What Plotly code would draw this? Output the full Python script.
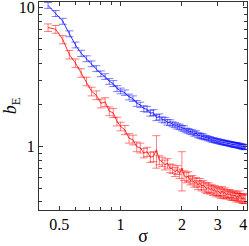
import plotly.graph_objects as go

sigma = [0.44, 0.48, 0.52, 0.56, 0.60, 0.64, 0.68, 0.72, 0.76, 0.80, 0.84, 0.88, 0.92, 0.96, 1.00,
         1.05, 1.10, 1.15, 1.20, 1.25, 1.30, 1.35, 1.40, 1.45, 1.50, 1.55, 1.60, 1.65, 1.70, 1.75,
         1.80, 1.85, 1.90, 1.95, 2.00, 2.05, 2.10, 2.15, 2.20, 2.25, 2.30, 2.35, 2.40, 2.45, 2.50,
         2.55, 2.60, 2.65, 2.70, 2.75, 2.80, 2.85, 2.90, 2.95, 3.00, 3.05, 3.10, 3.15, 3.20, 3.25,
         3.30, 3.35, 3.40, 3.45, 3.50, 3.55, 3.60, 3.65, 3.70, 3.75, 3.80, 3.85, 3.90, 3.95, 4.00,
         4.05, 4.10]

blue_vals = [10.4, 9.1, 8.0, 6.5, 5.4, 4.7, 4.3, 3.95, 3.65, 3.35, 3.2, 2.95, 2.85, 2.62, 2.52,
             2.45, 2.28, 2.22, 2.05, 2.00, 1.88, 1.86, 1.74, 1.76, 1.62, 1.64, 1.57, 1.55, 1.50, 1.49,
             1.45, 1.43, 1.40, 1.39, 1.36, 1.35, 1.31, 1.30, 1.28, 1.27, 1.24, 1.25, 1.21, 1.20, 1.19,
             1.18, 1.16, 1.16, 1.14, 1.14, 1.12, 1.12, 1.11, 1.10, 1.10, 1.09, 1.08, 1.08, 1.07, 1.07,
             1.06, 1.06, 1.05, 1.05, 1.04, 1.04, 1.03, 1.03, 1.03, 1.02, 1.02, 1.01, 1.01, 1.00, 1.00,
             0.995, 0.99]

blue_err = [0.50, 0.45, 0.40, 0.32, 0.26, 0.24, 0.21, 0.19, 0.18, 0.16, 0.15, 0.14, 0.14, 0.13, 0.12,
            0.11, 0.11, 0.10, 0.10, 0.09, 0.09, 0.09, 0.08, 0.09, 0.08, 0.08, 0.07, 0.07, 0.07, 0.07,
            0.06, 0.06, 0.06, 0.06, 0.06, 0.06, 0.05, 0.05, 0.05, 0.05, 0.05, 0.05, 0.05, 0.05, 0.05,
            0.05, 0.04, 0.04, 0.04, 0.04, 0.04, 0.04, 0.04, 0.04, 0.04, 0.04, 0.04, 0.04, 0.04, 0.04,
            0.04, 0.04, 0.04, 0.04, 0.04, 0.04, 0.04, 0.04, 0.04, 0.04, 0.04, 0.04, 0.04, 0.04, 0.04,
            0.04, 0.04]

red_vals = [7.2, 7.0, 5.9, 4.6, 4.0, 3.4, 2.95, 2.5, 2.35, 2.05, 2.1, 1.8, 1.75, 1.52, 1.40,
            1.32, 1.15, 1.12, 1.00, 0.98, 0.90, 0.92, 0.84, 0.85, 0.95, 0.80, 0.78, 0.74, 0.76, 0.70,
            0.69, 0.66, 0.68, 0.64, 0.70, 0.62, 0.60, 0.61, 0.57, 0.58, 0.55, 0.56, 0.53, 0.55, 0.52,
            0.53, 0.51, 0.50, 0.51, 0.49, 0.50, 0.48, 0.49, 0.47, 0.48, 0.47, 0.46, 0.48, 0.46, 0.47,
            0.45, 0.46, 0.45, 0.46, 0.44, 0.45, 0.44, 0.45, 0.43, 0.44, 0.43, 0.45, 0.43, 0.42, 0.43,
            0.42, 0.42]

red_err = [0.45, 0.45, 0.40, 0.32, 0.28, 0.24, 0.21, 0.18, 0.17, 0.15, 0.15, 0.13, 0.13, 0.11, 0.10,
           0.10, 0.09, 0.09, 0.08, 0.08, 0.07, 0.07, 0.07, 0.07, 0.25, 0.06, 0.06, 0.06, 0.06, 0.05,
           0.05, 0.05, 0.05, 0.05, 0.22, 0.05, 0.05, 0.05, 0.04, 0.04, 0.04, 0.04, 0.04, 0.04, 0.04,
           0.04, 0.04, 0.04, 0.04, 0.035, 0.035, 0.035, 0.035, 0.035, 0.035, 0.035, 0.035, 0.035, 0.035, 0.035,
           0.03, 0.03, 0.03, 0.03, 0.03, 0.03, 0.03, 0.03, 0.03, 0.03, 0.03, 0.03, 0.03, 0.03, 0.03,
           0.03, 0.03]

x_major = [0.5, 1, 2, 3, 4]
x_labels = ["0.5", "1", "2", "3", "4"]
x_minor = [0.6, 0.7, 0.8, 0.9]
y_major = [1, 10]
y_labels = ["1", "10"]
y_minor = [0.4, 0.5, 0.6, 0.7, 0.8, 0.9, 2, 3, 4, 5, 6, 7, 8, 9]

SERIF = "Liberation Serif, Times New Roman, Times, serif"

fig = go.Figure()
fig.add_trace(go.Scatter(
    x=sigma, y=red_vals, mode="lines",
    line=dict(color="rgb(255,0,0)", width=0.8),
    error_y=dict(type="data", array=red_err, visible=True,
                 color="rgba(255,0,0,0.5)", thickness=1, width=4),
    showlegend=False))
fig.add_trace(go.Scatter(
    x=sigma, y=blue_vals, mode="lines",
    line=dict(color="rgb(0,0,255)", width=0.8),
    error_y=dict(type="data", array=blue_err, visible=True,
                 color="rgba(0,0,255,0.5)", thickness=1, width=4),
    showlegend=False))

axis_common = dict(showline=True, linecolor="#333", linewidth=1, mirror="ticks",
                   ticks="inside", ticklen=4, tickcolor="#333", showgrid=False, zeroline=False,
                   automargin=False, ticklabeloverflow="allow",
                   tickfont=dict(family=SERIF, size=16, color="black"))

fig.update_xaxes(type="log", range=[-0.401, 0.621], tickmode="array",
                 tickvals=x_major, ticktext=x_labels,
                 minor=dict(tickmode="array", tickvals=x_minor, ticks="inside", ticklen=3,
                            tickcolor="#333", showgrid=False),
                 title=dict(text="σ", font=dict(family=SERIF, size=18, color="black"),
                            standoff=2),
                 **axis_common)
fig.update_yaxes(type="log", range=[-0.456, 1.0414], tickmode="array",
                 tickvals=y_major, ticktext=y_labels,
                 minor=dict(tickmode="array", tickvals=y_minor, ticks="inside", ticklen=3,
                            tickcolor="#333", showgrid=False),
                 title=dict(text="<i>b</i><sub>E</sub>",
                            font=dict(family=SERIF, size=18, color="black"),
                            standoff=4),
                 **axis_common)

fig.update_layout(width=249, height=246, margin=dict(l=39, r=2, t=2, b=36, autoexpand=False),
                  plot_bgcolor="white", paper_bgcolor="white")

fig.write_html("out.html", config={"displayModeBar": False},
               post_script="document.body.style.margin='0';document.body.style.padding='0';")
